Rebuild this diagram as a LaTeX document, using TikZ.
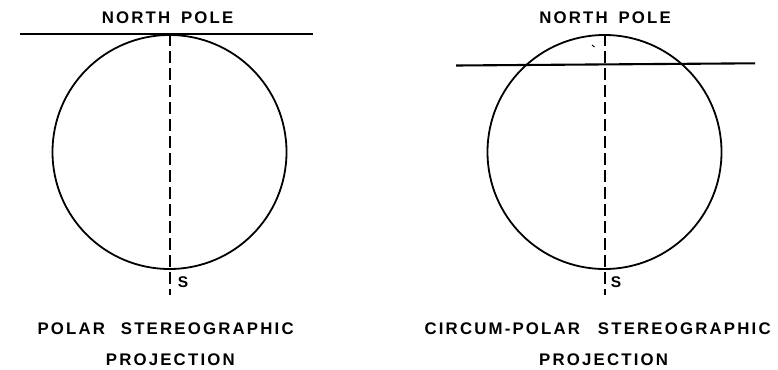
\documentclass[tikz,border=0pt]{standalone}
\usepackage{fontspec}
\newfontfamily\lblfont{Liberation Sans}[LetterSpace=13,BoldFont={Liberation Sans Bold}]
\begin{document}
\begin{tikzpicture}[x=1pt,y=-1pt,
  lbl/.style={font=\lblfont\bfseries\fontsize{16.8}{16.8}\selectfont, inner sep=0pt, anchor=center},
  slbl/.style={font=\lblfont\bfseries\fontsize{15.5}{15.5}\selectfont, inner sep=0pt, anchor=center},
  globe/.style={draw, circle, line width=1.8pt, minimum size=234pt, inner sep=0pt},
  axis/.style={line width=2pt, dash pattern=on 12pt off 5pt},
  plane/.style={line width=2.1pt}]
\useasboundingbox (0,0) rectangle (778,369);
% left: polar stereographic
\node[globe] (g1) at (169.5,152) {};
\coordinate (p1l) at (20,34);
\coordinate (p1r) at (313,34);
\coordinate (a1e) at (169.5,295);
\draw[plane] (p1l) -- (p1r);
\draw[axis] (g1.north) -- (a1e);
\node[lbl] (np1) at (167.6,17.5) {NORTH\hspace{10.8pt}POLE};
\node[slbl] (s1) at (183,282) {S};
\node[lbl] (t1a) at (165.6,329) {POLAR\hspace{15.8pt}STEREOGRAPHIC};
\node[lbl] (t1b) at (170.3,360) {PROJECTION};
% right: circum-polar stereographic
\node[globe] (g2) at (604.5,152) {};
\coordinate (p2l) at (456,65.5);
\coordinate (p2r) at (755,63.3);
\coordinate (a2e) at (604.5,295);
\draw[plane] (p2l) -- (p2r);
\draw[axis] (g2.north) -- (a2e);
\coordinate (m1) at (592,45);
\coordinate (m2) at (594.5,47);
\draw[line width=1pt] (m1) -- (m2);
\node[lbl] (np2) at (605.1,17.5) {NORTH\hspace{10.8pt}POLE};
\node[slbl] (s2) at (616,282) {S};
\node[lbl] (t2a) at (597.6,329) {CIRCUM-POLAR\hspace{17.8pt}STEREOGRAPHIC};
\node[lbl] (t2b) at (603.6,360) {PROJECTION};
\end{tikzpicture}
\end{document}
